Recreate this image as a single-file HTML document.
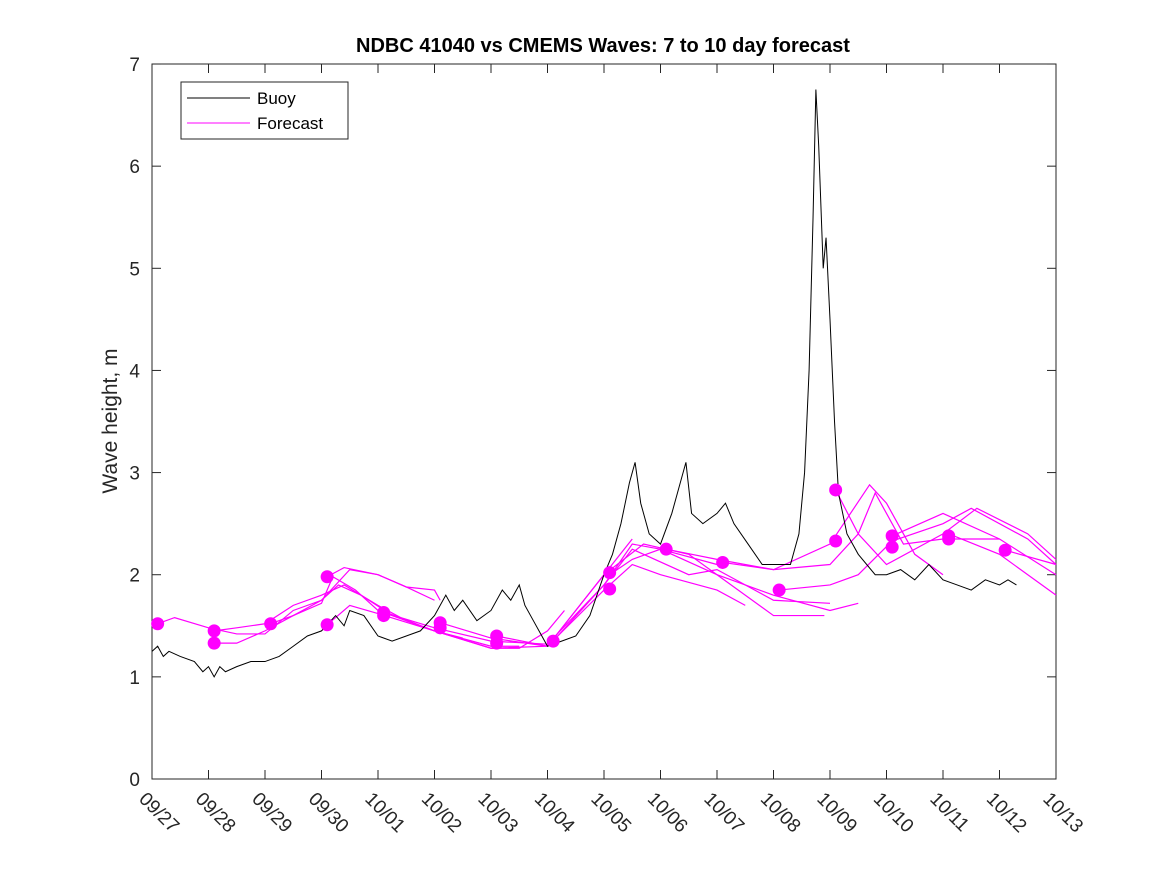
<!DOCTYPE html>
<html><head><meta charset="utf-8"><style>
body{margin:0;background:#fff;}
svg{font-family:"Liberation Sans",sans-serif;}
</style></head><body>
<svg id="chart" width="1167" height="875">
<rect x="0" y="0" width="1167" height="875" fill="#fff"/>
<text x="603" y="52" text-anchor="middle" font-size="20" font-weight="bold" fill="#000">NDBC 41040 vs CMEMS Waves: 7 to 10 day forecast</text>
<rect x="152" y="64" width="904" height="715" fill="none" stroke="#262626" stroke-width="1"/>
<g id="axes"></g>
<g id="fc"></g>
<g id="buoy"></g>
<g id="dots"></g>
<text transform="translate(117,421) rotate(-90)" text-anchor="middle" font-size="21" fill="#262626">Wave height, m</text>
<g>
<rect x="181" y="82" width="167" height="57" fill="#fff" stroke="#262626"/>
<line x1="187" y1="98" x2="250" y2="98" stroke="#000"/>
<text x="257" y="104" font-size="17" fill="#000">Buoy</text>
<line x1="187" y1="123" x2="250" y2="123" stroke="#f0f"/>
<text x="257" y="129" font-size="17" fill="#000">Forecast</text>
</g>
</svg>
<script>
const xLabels=["09/27","09/28","09/29","09/30","10/01","10/02","10/03","10/04","10/05","10/06","10/07","10/08","10/09","10/10","10/11","10/12","10/13"];
const yTicks=[0,1,2,3,4,5,6,7];
const buoyT=[0,0.1,0.2,0.3,0.5,0.75,0.9,1,1.1,1.2,1.3,1.5,1.75,2,2.25,2.5,2.75,3,3.25,3.4,3.5,3.75,4,4.25,4.5,4.75,5,5.2,5.35,5.5,5.75,6,6.2,6.35,6.5,6.6,6.75,6.9,7,7.25,7.5,7.75,8,8.15,8.3,8.45,8.55,8.65,8.8,9,9.2,9.35,9.45,9.55,9.75,10,10.15,10.3,10.55,10.8,11,11.3,11.45,11.55,11.63,11.7,11.75,11.8,11.88,11.93,12,12.08,12.15,12.3,12.5,12.8,13,13.25,13.5,13.75,14,14.25,14.5,14.75,15,15.15,15.3];
const buoyV=[1.25,1.3,1.2,1.25,1.2,1.15,1.05,1.1,1.0,1.1,1.05,1.1,1.15,1.15,1.2,1.3,1.4,1.45,1.6,1.5,1.65,1.6,1.4,1.35,1.4,1.45,1.6,1.8,1.65,1.75,1.55,1.65,1.85,1.75,1.9,1.7,1.55,1.4,1.3,1.35,1.4,1.6,2.0,2.2,2.5,2.9,3.1,2.7,2.4,2.3,2.6,2.9,3.1,2.6,2.5,2.6,2.7,2.5,2.3,2.1,2.1,2.1,2.4,3.0,4.0,5.5,6.75,6.2,5.0,5.3,4.5,3.5,2.8,2.4,2.2,2.0,2.0,2.05,1.95,2.1,1.95,1.9,1.85,1.95,1.9,1.95,1.9];
const fcLines=[
[[0.1,1.52],[0.4,1.58],[1,1.48],[1.5,1.42],[2,1.42],[2.5,1.65],[3,1.75],[3.3,1.9],[3.7,1.8],[4.2,1.62],[5,1.45],[6,1.3],[6.5,1.3]],
[[1.1,1.33],[1.5,1.33],[2,1.45],[2.5,1.6],[3,1.75],[3.5,2.05],[4,2.0],[4.5,1.88],[5,1.75]],
[[1.1,1.45],[1.5,1.48],[2,1.52],[2.5,1.7],[3,1.8],[3.4,1.9],[4,1.7],[4.5,1.55],[5,1.45],[5.5,1.38]],
[[2.1,1.52],[2.5,1.6],[3,1.72],[3.2,1.98],[3.6,1.85],[4,1.65],[5,1.45],[6,1.28],[6.5,1.28],[7,1.45],[7.3,1.65]],
[[3.1,1.98],[3.4,2.07],[4,2.0],[4.5,1.88],[5,1.85],[5.1,1.75]],
[[3.1,1.51],[3.5,1.7],[4,1.62],[5,1.45],[6,1.28],[7,1.3],[8,2.0],[8.5,2.35]],
[[4.1,1.63],[5,1.48],[6,1.35],[7,1.32],[8,1.9],[8.5,2.3],[9,2.25],[10,2.1]],
[[5.1,1.53],[6,1.38],[7,1.3],[8,1.85],[8.5,2.1],[9,2.0],[10,1.85],[10.5,1.7]],
[[6.1,1.4],[7,1.3],[8,2.0],[8.7,2.3],[9.5,2.2],[10,2.0],[11,1.6],[11.9,1.6]],
[[7.1,1.35],[8,1.9],[8.5,2.25],[9.5,2.0],[10,2.05],[11,1.75],[12,1.72]],
[[8.1,2.0],[8.5,2.15],[9,2.25],[10,2.0],[11,1.8],[12,1.65],[12.5,1.72]],
[[9.1,2.25],[10,2.15],[11,2.05],[12,2.3],[12.7,2.88],[13,2.7],[13.5,2.2],[14,2.0]],
[[10.1,2.12],[11,2.05],[12,2.1],[12.5,2.4],[12.8,2.8],[13.3,2.3],[14,2.35],[15,2.35]],
[[11.1,1.85],[12,1.9],[12.5,2.0],[13.1,2.33],[14,2.5],[14.5,2.65],[15.5,2.35],[16,2.1]],
[[12.1,2.83],[12.5,2.4],[13,2.1],[14,2.4],[14.6,2.65],[15.5,2.4],[16,2.15]],
[[13.1,2.38],[14,2.6],[15,2.35],[16,2.0]],
[[14.1,2.4],[15,2.2],[16,1.8]],
[[15.1,2.24],[16,2.1]]
];
const dotT=[0.1,1.1,1.1,2.1,3.1,3.1,4.1,4.1,5.1,5.1,6.1,6.1,7.1,8.1,8.1,9.1,10.1,11.1,12.1,12.1,13.1,13.1,14.1,14.1,15.1];
const dotV=[1.52,1.45,1.33,1.52,1.98,1.51,1.63,1.6,1.53,1.48,1.4,1.33,1.35,2.02,1.86,2.25,2.12,1.85,2.83,2.33,2.38,2.27,2.38,2.35,2.24];

const NS="http://www.w3.org/2000/svg";
const X=d=>152+d*56.5, Y=v=>779-v*102.14;
function mk(tag,attrs,parent){const e=document.createElementNS(NS,tag);for(const k in attrs)e.setAttribute(k,attrs[k]);parent.appendChild(e);return e;}
const ax=document.getElementById('axes');
yTicks.forEach(v=>{
  mk('line',{x1:152,x2:161,y1:Y(v),y2:Y(v),stroke:'#262626'},ax);
  mk('line',{x1:1047,x2:1056,y1:Y(v),y2:Y(v),stroke:'#262626'},ax);
  const t=mk('text',{x:140,y:Y(v)+7,'text-anchor':'end','font-size':'19',fill:'#262626'},ax);
  t.textContent=v;
  
  
});
xLabels.forEach((s,i)=>{
  mk('line',{x1:X(i),x2:X(i),y1:779,y2:770,stroke:'#262626'},ax);
  mk('line',{x1:X(i),x2:X(i),y1:64,y2:73,stroke:'#262626'},ax);
  const t=mk('text',{x:X(i)-14,y:800,transform:`rotate(45 ${X(i)-14} 800)`,'font-size':'19',fill:'#262626'},ax);
  t.textContent=s;
  
  
});
const fc=document.getElementById('fc');
fcLines.forEach(l=>{
  const p=mk('polyline',{points:l.map(q=>X(q[0])+','+Y(q[1])).join(' '),fill:'none',stroke:'#f0f','stroke-width':'1.2'},fc);
  
  
});
const b=mk('polyline',{points:buoyT.map((t,i)=>X(t)+','+Y(buoyV[i])).join(' '),fill:'none',stroke:'#000','stroke-width':'1'},document.getElementById('buoy'));


const dg=document.getElementById('dots');
dotT.forEach((t,i)=>{
  const c=mk('circle',{cx:X(t),cy:Y(dotV[i]),r:6.5,fill:'#f0f'},dg);
  
  
});
</script>
</body></html>
